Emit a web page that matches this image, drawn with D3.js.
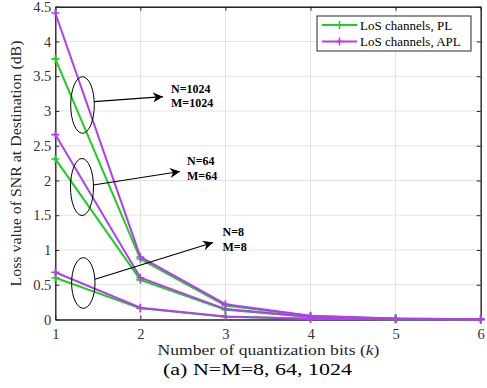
<!DOCTYPE html>
<html><head><meta charset="utf-8">
<script src="https://cdn.jsdelivr.net/npm/d3@7"></script>
<style>body{margin:0;background:#fff}svg{display:block}</style>
</head><body>
<script>
const bits = [1, 2, 3, 4, 5, 6];
const pl1024 = [3.75, 0.87, 0.20, 0.05, 0.012, 0.003];
const apl1024 = [4.41, 0.90, 0.22, 0.055, 0.014, 0.003];
const pl64 = [2.31, 0.57, 0.14, 0.035, 0.009, 0.002];
const apl64 = [2.66, 0.60, 0.15, 0.038, 0.010, 0.002];
const pl8 = [0.60, 0.16, 0.04, 0.010, 0.003, 0.001];
const apl8 = [0.68, 0.17, 0.043, 0.011, 0.003, 0.001];
const yTicks = [0, 0.5, 1, 1.5, 2, 2.5, 3, 3.5, 4, 4.5];
const legendLabels = ["LoS channels, PL", "LoS channels, APL"];
const groupLabels = [["N=1024", "M=1024"], ["N=64", "M=64"], ["N=8", "M=8"]];

const W = 487, H = 388;
const m = {l: 55.3, r: 6.3, t: 6.7, b: 68.5};
const green = "#1ccf1c", purple = "#b23ef0";
const svg = d3.select("body").append("svg").attr("width", W).attr("height", H);
const x = d3.scaleLinear().domain([1, 6]).range([m.l, W - m.r]);
const y = d3.scaleLinear().domain([0, 4.5]).range([H - m.b, m.t]);
const serif = "Liberation Serif, Times New Roman, serif";

// grid
const g = svg.append("g");
g.selectAll(".gx").data(bits).join("line")
  .attr("x1", d => x(d)).attr("x2", d => x(d)).attr("y1", y(0)).attr("y2", y(4.5))
  .attr("stroke", "#e3e3e3").attr("stroke-width", 1);
g.selectAll(".gy").data(yTicks).join("line")
  .attr("x1", x(1)).attr("x2", x(6)).attr("y1", d => y(d)).attr("y2", d => y(d))
  .attr("stroke", "#e3e3e3").attr("stroke-width", 1);

// axes
const xAxis = d3.axisBottom(x).tickValues(bits).tickFormat(d3.format("d")).tickSizeInner(-4).tickSizeOuter(0).tickPadding(9);
const yAxis = d3.axisLeft(y).tickValues(yTicks).tickFormat(d => d).tickSizeInner(-4).tickSizeOuter(0).tickPadding(4);
const xa = svg.append("g").attr("transform", `translate(0,${y(0)})`).call(xAxis);
const ya = svg.append("g").attr("transform", `translate(${x(1)},0)`).call(yAxis);
const xt = svg.append("g").attr("transform", `translate(0,${y(4.5)})`).call(d3.axisTop(x).tickValues(bits).tickFormat("").tickSizeInner(-4).tickSizeOuter(0));
const yr = svg.append("g").attr("transform", `translate(${x(6)},0)`).call(d3.axisRight(y).tickValues(yTicks).tickFormat("").tickSizeInner(-4).tickSizeOuter(0));
[xa, ya, xt, yr].forEach(a => {
  a.selectAll("path.domain").attr("stroke", "#262626").attr("stroke-width", 1.4);
  a.selectAll(".tick line").attr("stroke", "#262626");
  a.selectAll("text").attr("font-family", serif).attr("font-size", 14.5).attr("fill", "#333");
});

// series
const line = d3.line().x((d, i) => x(bits[i])).y(d => y(d));
const series = [
  {v: pl8, c: green}, {v: pl64, c: green}, {v: pl1024, c: green},
  {v: apl8, c: purple}, {v: apl64, c: purple}, {v: apl1024, c: purple}
];
series.forEach(s => {
  svg.append("path").datum(s.v).attr("d", line).attr("fill", "none")
    .attr("stroke", s.c).attr("stroke-width", 2);
  svg.append("g").selectAll("path").data(s.v).join("path")
    .attr("d", (d, i) => `M${x(bits[i]) - 4},${y(d)}h8M${x(bits[i])},${y(d) - 4}v8`)
    .attr("stroke", s.c).attr("stroke-width", 1.6);
});

// annotations
const ann = [
  {cx: 82.5, cy: 105, rx: 11.8, ry: 28.3, ax1: 94.3, ay1: 101.7, ax2: 163, ay2: 96.7, tx: 171, ty: [89, 103]},
  {cx: 82, cy: 187, rx: 11.5, ry: 28.5, ax1: 93.3, ay1: 185, ax2: 180, ay2: 171.5, tx: 187, ty: [161, 175.5]},
  {cx: 83.3, cy: 283, rx: 11.7, ry: 25.3, ax1: 95, ay1: 279.3, ax2: 213, ay2: 242.5, tx: 222.5, ty: [232, 247]}
];
const defs = svg.append("defs");
defs.append("marker").attr("id", "ah").attr("viewBox", "0 0 10 10").attr("refX", 10).attr("refY", 5)
  .attr("markerWidth", 10).attr("markerHeight", 10).attr("markerUnits", "userSpaceOnUse").attr("orient", "auto")
  .append("path").attr("d", "M0,0L10,5L0,10L3,5Z").attr("fill", "#000");
ann.forEach((a, i) => {
  svg.append("ellipse").attr("cx", a.cx).attr("cy", a.cy).attr("rx", a.rx).attr("ry", a.ry)
    .attr("fill", "none").attr("stroke", "#000").attr("stroke-width", 1);
  svg.append("line").attr("x1", a.ax1).attr("y1", a.ay1).attr("x2", a.ax2).attr("y2", a.ay2)
    .attr("stroke", "#000").attr("stroke-width", 1.2).attr("marker-end", "url(#ah)");
  groupLabels[i].forEach((t, j) => {
    svg.append("text").attr("x", a.tx).attr("y", a.ty[j]).attr("dy", "0.35em")
      .attr("font-family", serif).attr("font-weight", "bold").attr("font-size", 12).text(t);
  });
});

// legend
const lg = svg.append("g");
lg.append("rect").attr("x", 317).attr("y", 16).attr("width", 154).attr("height", 35)
  .attr("fill", "#fff").attr("stroke", "#262626").attr("stroke-width", 1);
[green, purple].forEach((c, i) => {
  const yy = 25 + i * 16.5;
  lg.append("line").attr("x1", 322).attr("x2", 357).attr("y1", yy).attr("y2", yy).attr("stroke", c).attr("stroke-width", 2);
  lg.append("path").attr("d", `M335.5,${yy}h8M339.5,${yy - 4}v8`).attr("stroke", c).attr("stroke-width", 1.6);
  lg.append("text").attr("x", 360).attr("y", yy).attr("dy", "0.35em").attr("font-family", serif)
    .attr("font-size", 13).attr("fill", "#000").text(legendLabels[i]);
});

// labels
const xl = svg.append("text").attr("x", 268.5).attr("y", 355).attr("text-anchor", "middle")
  .attr("font-family", serif).attr("font-size", 14.5).attr("fill", "#262626")
  .attr("textLength", 222).attr("lengthAdjust", "spacingAndGlyphs");
xl.append("tspan").text("Number of quantization bits (");
xl.append("tspan").attr("font-style", "italic").text("k");
xl.append("tspan").text(")");
svg.append("text").attr("transform", "translate(21,163.5) rotate(-90)").attr("text-anchor", "middle")
  .attr("font-family", serif).attr("font-size", 15).attr("fill", "#262626")
  .attr("textLength", 246).attr("lengthAdjust", "spacingAndGlyphs")
  .text("Loss value of SNR at Destination (dB)");
svg.append("text").attr("x", 257.5).attr("y", 374.5).attr("text-anchor", "middle")
  .attr("font-family", serif).attr("font-size", 17.5).attr("fill", "#000")
  .attr("textLength", 189).attr("lengthAdjust", "spacingAndGlyphs")
  .text("(a) N=M=8, 64, 1024");
</script>
</body></html>
